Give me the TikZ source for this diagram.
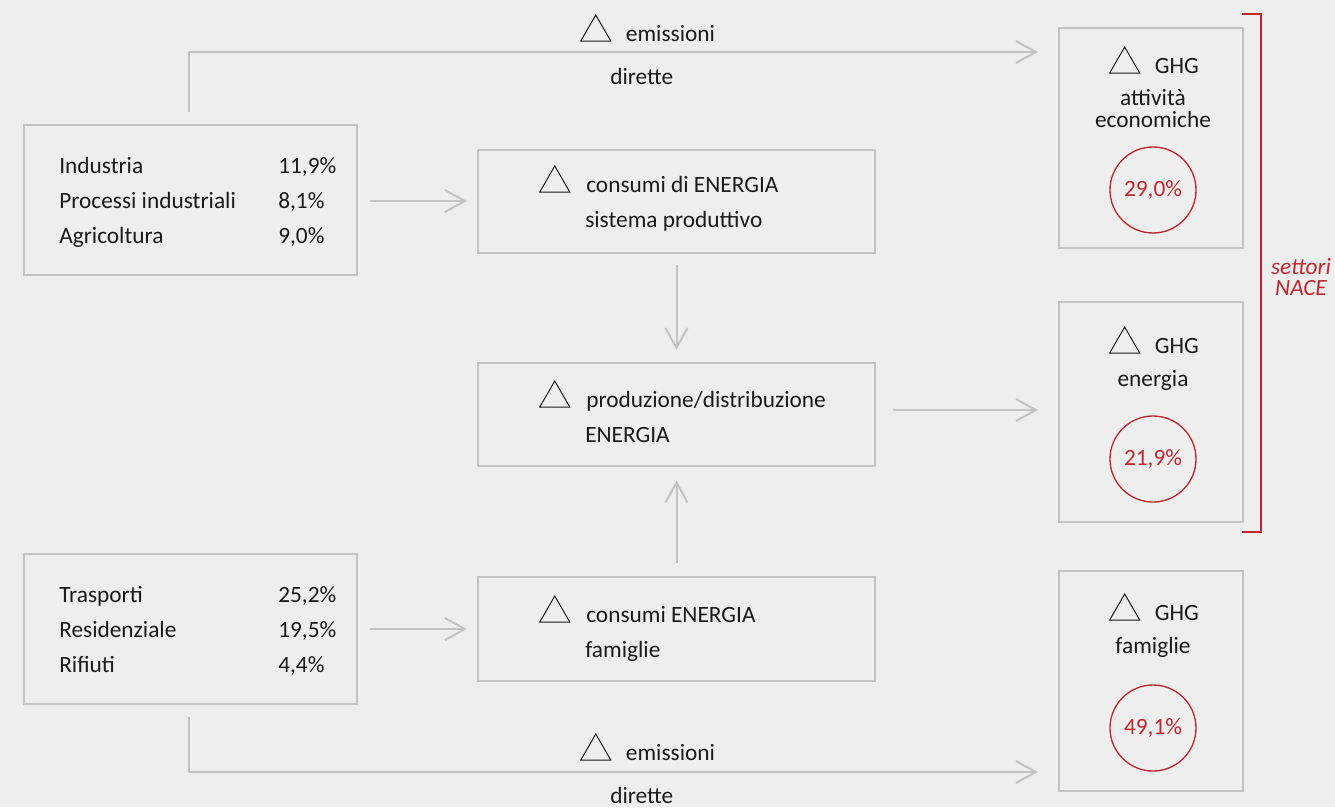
\documentclass[tikz,border=0pt]{standalone}
\usepackage{fontspec}
\setmainfont{Carlito}
\usetikzlibrary{arrows.meta}
\definecolor{bg}{HTML}{EEEEEE}
\definecolor{frame}{HTML}{C3C3C3}
\definecolor{nred}{HTML}{C1272D}
\definecolor{ink}{HTML}{1A1A1A}
\newcommand\deltri{\tikz[baseline=0pt]\draw[ink,line width=0.75pt,line join=miter] (0,0)--(22.5pt,0)--(11.25pt,19.5pt)--cycle;}
\begin{document}
\begin{tikzpicture}[x=0.75pt,y=-0.75pt,
  box/.style={draw=frame,line width=1.5pt,inner sep=0,anchor=north west,rectangle},
  txt/.style={inner sep=0,anchor=base west,text=ink,font=\fontsize{17.5}{21}\selectfont},
  ctxt/.style={txt,anchor=base},
  ring/.style={draw=nred,line width=1pt,circle,minimum size=64.5pt,inner sep=0,text=nred,font=\fontsize{17.5}{21}\selectfont},
  conn/.style={draw=frame,line width=1.5pt,-{Straight Barb[length=15pt,width=16.5pt]}}]
\fill[bg] (0,0) rectangle (1335,807);
\useasboundingbox (0,0) rectangle (1335,807);

% boxes
\node[box,minimum width=249.75pt,minimum height=112.5pt] (A) at (23,124) {};
\node[box,minimum width=297.75pt,minimum height=77.25pt] (B) at (477,149) {};
\node[box,minimum width=297.75pt,minimum height=77.25pt] (C) at (477,362) {};
\node[box,minimum width=297.75pt,minimum height=78pt] (D) at (477,576) {};
\node[box,minimum width=249.75pt,minimum height=112.5pt] (E) at (23,553) {};
\node[box,minimum width=138pt,minimum height=165pt] (F) at (1058,27) {};
\node[box,minimum width=138pt,minimum height=165pt] (G) at (1058,301) {};
\node[box,minimum width=138pt,minimum height=165pt] (H) at (1058,570) {};

% box A
\node[txt] (a1) at (59,173) {Industria};
\node[txt] (a2) at (59,208) {Processi industriali};
\node[txt] (a3) at (59,243) {Agricoltura};
\node[txt] (a1v) at (278,173) {11,9\%};
\node[txt] (a2v) at (278,208) {8,1\%};
\node[txt] (a3v) at (278,243) {9,0\%};

% box E
\node[txt] (e1) at (59,602) {Trasporti};
\node[txt] (e2) at (59,637) {Residenziale};
\node[txt] (e3) at (59,672) {Rifiuti};
\node[txt] (e1v) at (278,602) {25,2\%};
\node[txt] (e2v) at (278,637) {19,5\%};
\node[txt] (e3v) at (278,672) {4,4\%};

% middle boxes
\node[txt] (b1) at (539,192) {\deltri\hspace{12pt}consumi di ENERGIA};
\node[txt] (b2) at (585,227) {sistema produttivo};
\node[txt] (c1) at (539,407) {\deltri\hspace{12pt}produzione/distribuzione};
\node[txt] (c2) at (585,442) {ENERGIA};
\node[txt] (d1) at (539,622) {\deltri\hspace{12pt}consumi ENERGIA};
\node[txt] (d2) at (585,657) {famiglie};

% right boxes
\node[ctxt] (f1) at (1154,73) {\deltri\hspace{11pt}GHG};
\node[ctxt] (f2) at (1153,105) {attività};
\node[ctxt] (f3) at (1153,127) {economiche};
\node[ring] (r1) at (1153,190) {29,0\%};
\node[ctxt] (g1) at (1154,353) {\deltri\hspace{11pt}GHG};
\node[ctxt] (g2) at (1153,386) {energia};
\node[ring] (r2) at (1153,459) {21,9\%};
\node[ctxt] (h1) at (1154,620) {\deltri\hspace{11pt}GHG};
\node[ctxt] (h2) at (1153,653) {famiglie};
\node[ring] (r3) at (1153,728) {49,1\%};

% bracket and label
\draw[nred,line width=1pt] (1242,14) -| (1261,532) -- (1242,532);
\node[ctxt,text=nred,font=\fontsize{17.5}{21}\selectfont\itshape] (s1) at (1301,274) {settori};
\node[ctxt,text=nred,font=\fontsize{17.5}{21}\selectfont\itshape] (s2) at (1301,295) {NACE};

% emission labels
\node[txt] (m1) at (580,41) {\deltri\hspace{11pt}emissioni};
\node[txt] (m2) at (610,84) {dirette};
\node[txt] (n1) at (580,760) {\deltri\hspace{11pt}emissioni};
\node[txt] (n2) at (610,803) {dirette};

% connectors
\coordinate (tt) at (189,52);
\coordinate (bb) at (189,772);
\coordinate (ab) at (400,201);
\coordinate (cg) at (950,410);
\coordinate (ed) at (400,629);
\draw[conn,shorten <=9pt,shorten >=15pt] (A.north -| tt) |- (F.west |- tt);
\draw[conn,shorten <=9pt,shorten >=15pt] (E.south -| bb) |- (H.west |- bb);
\draw[conn,shorten <=9pt,shorten >=7.5pt] (A.east |- ab) -- (B.west |- ab);
\draw[conn,shorten <=9pt,shorten >=7.5pt] (E.east |- ed) -- (D.west |- ed);
\draw[conn,shorten <=8pt,shorten >=9pt] (B.south) -- (C.north);
\draw[conn,shorten <=10pt,shorten >=10pt] (D.north) -- (C.south);
\draw[conn,shorten <=12.75pt,shorten >=15pt] (C.east |- cg) -- (G.west |- cg);
\end{tikzpicture}
\end{document}
